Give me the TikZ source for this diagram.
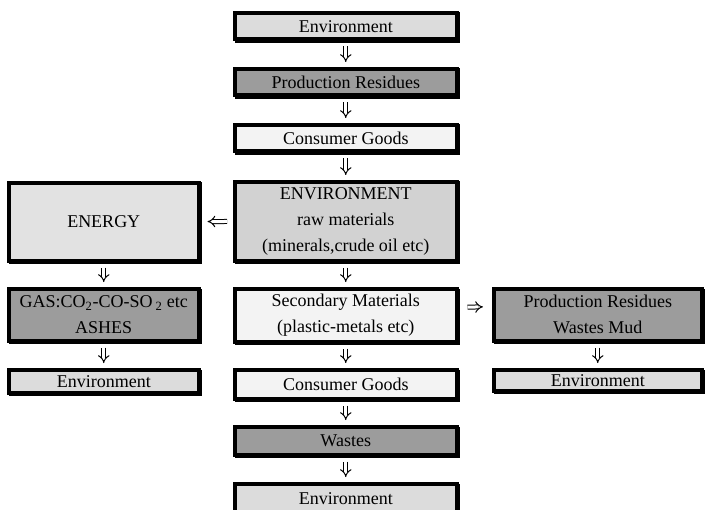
\documentclass[tikz,border=0pt]{standalone}
\usepackage{fontspec}
\setmainfont{Liberation Serif}
\usetikzlibrary{arrows.meta,shadows}
\definecolor{clight}{HTML}{DCDCDC}
\definecolor{cdark}{HTML}{9C9C9C}
\definecolor{cvlight}{HTML}{F3F3F3}
\definecolor{cmed}{HTML}{D2D2D2}
\definecolor{cenergy}{HTML}{E2E2E2}
\begin{document}
\begin{tikzpicture}[x=1pt,y=-1pt,
  box/.style={rectangle, draw=black, line width=4pt, inner sep=0pt, align=center,
    font=\fontsize{18}{26}\selectfont,
    general shadow={fill=black, draw=black, line width=4pt, shadow xshift=1.5pt, shadow yshift=-1.5pt}},
  imp/.style={double, double distance=3pt, line width=1pt, -{Implies}, shorten <=5pt, shorten >=5pt}]
\useasboundingbox (0,0) rectangle (708,510);
\clip (0,0) rectangle (708,510);
\fill[white] (0,0) rectangle (708,510);
% centre column
\node[box, fill=clight,  minimum width=221.5pt, minimum height=26.5pt] (c1) at (345.75,26.25) {Environment};
\node[box, fill=cdark,   minimum width=221.5pt, minimum height=26.5pt] (c2) at (345.75,82.25) {Production Residues};
\node[box, fill=cvlight, minimum width=221.5pt, minimum height=26.5pt] (c3) at (345.75,138.25) {Consumer Goods};
\node[box, fill=cmed,    minimum width=221.5pt, minimum height=78.5pt] (c4) at (345.75,221.25) {ENVIRONMENT\\raw materials\\(minerals,crude oil etc)};
\node[box, fill=cvlight, minimum width=221.5pt, minimum height=52.5pt] (c5) at (345.75,315.25) {Secondary Materials\\(plastic-metals etc)};
\node[box, fill=cvlight, minimum width=221.5pt, minimum height=28.5pt] (c6) at (345.75,384.25) {Consumer Goods};
\node[box, fill=cdark,   minimum width=221.5pt, minimum height=27.5pt] (c7) at (345.75,440.75) {Wastes};
\node[box, fill=clight,  minimum width=221.5pt, minimum height=28.5pt] (c8) at (345.75,498.25) {Environment};
% left column
\node[box, fill=cenergy, minimum width=189.5pt, minimum height=77.5pt] (l1) at (103.75,221.75) {ENERGY};
\node[box, fill=cdark,   minimum width=189.5pt, minimum height=51.5pt] (l2) at (103.75,314.75) {GAS:CO\textsubscript{2}-CO-SO\,\textsubscript{2} etc\\ASHES};
\node[box, fill=clight,  minimum width=189.5pt, minimum height=22.5pt] (l3) at (103.75,381.25) {Environment};
% right column
\node[box, fill=cdark,   minimum width=207.5pt, minimum height=51.5pt] (r1) at (597.75,314.75) {Production Residues\\Wastes Mud};
\node[box, fill=clight,  minimum width=207.5pt, minimum height=20.5pt] (r2) at (597.75,380.25) {Environment};
% connectors
\draw[imp] (c1) -- (c2);
\draw[imp] (c2) -- (c3);
\draw[imp] (c3) -- (c4);
\draw[imp] (c4) -- (c5);
\draw[imp] (c5) -- (c6);
\draw[imp] (c6) -- (c7);
\draw[imp] (c7) -- (c8);
\draw[imp, shorten <=6pt, shorten >=7pt] (c4) -- (l1);
\draw[imp] (l1) -- (l2);
\draw[imp] (l2) -- (l3);
\draw[imp, shorten <=9pt, shorten >=9pt] ([yshift=8pt]c5.east) -- ([yshift=8pt]r1.west);
\draw[imp] (r1) -- (r2);
\end{tikzpicture}
\end{document}
